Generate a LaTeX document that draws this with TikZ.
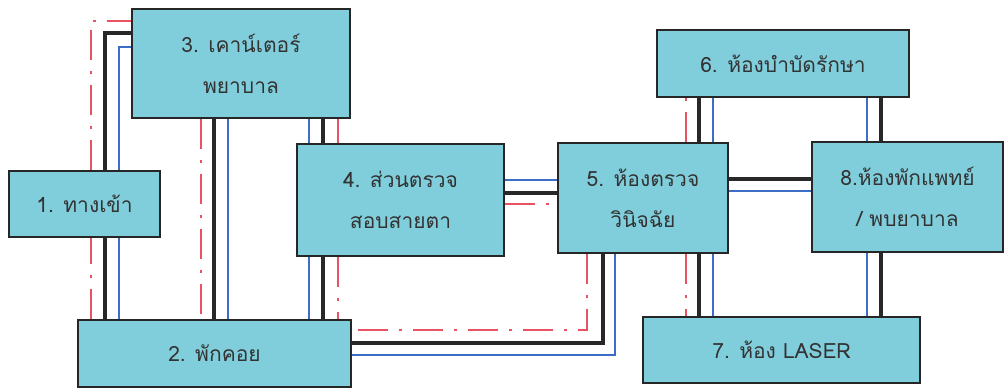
\documentclass[tikz,border=0pt]{standalone}
\usepackage{fontspec}
\newfontfamily\thai[Script=Thai]{Loma}
\usetikzlibrary{backgrounds}
\definecolor{boxfill}{RGB}{128,206,220}
\definecolor{lineblk}{RGB}{40,40,40}
\definecolor{lineblu}{RGB}{60,110,200}
\definecolor{linered}{RGB}{232,82,98}
\begin{document}
\begin{tikzpicture}[x=1pt,y=-1pt,
  box/.style={draw=black!85, line width=1.2pt, fill=boxfill, inner sep=0pt, align=center,
    text=black!80, font=\thai\fontsize{21}{41}\selectfont},
  blk/.style={draw=lineblk, line width=4pt},
  blu/.style={draw=lineblu, line width=1.8pt},
  redl/.style={draw=linered, line width=1.8pt, dash pattern=on 30pt off 11pt on 3pt off 11pt}]
\useasboundingbox (0,0) rectangle (1005,388);
\node[box, minimum width=151pt, minimum height=66pt] (b1) at (84.5,204) {1. ทางเข้า};
\node[box, minimum width=273pt, minimum height=67pt] (b2) at (214.5,353.5) {2. พักคอย};
\node[box, minimum width=218pt, minimum height=109pt] (b3) at (241,63.5) {3. เคาน์เตอร์\\พยาบาล};
\node[box, minimum width=207pt, minimum height=112pt] (b4) at (400.5,200) {4. ส่วนตรวจ\\สอบสายตา};
\node[box, minimum width=170pt, minimum height=110pt] (b5) at (643,198) {5. ห้องตรวจ\\วินิจฉัย};
\node[box, minimum width=252pt, minimum height=67pt] (b6) at (783,63.5) {6. ห้องบำบัดรักษา};
\node[box, minimum width=277pt, minimum height=66pt] (b7) at (781.5,350) {7. ห้อง LASER};
\node[box, minimum width=191pt, minimum height=110pt] (b8) at (907.5,197) {8.ห้องพักแพทย์\\/ พบยาบาล};
\begin{pgfonlayer}{background}
% 2 - 1
\draw[redl] (b2.north -| 91,0) -- (b1.south -| 91,0);
\draw[blk] (b2.north -| 105,0) -- (b1.south -| 105,0);
\draw[blu] (b2.north -| 119,0) -- (b1.south -| 119,0);
% 1 - 3
\draw[redl] (b1.north -| 91,0) |- (b3.west |- 0,21);
\draw[blk] (b1.north -| 105,0) |- (b3.west |- 0,33);
\draw[blu] (b1.north -| 119,0) |- (b3.west |- 0,47);
% 3 - 2
\draw[redl] (b3.south -| 201,0) -- (b2.north -| 201,0);
\draw[blk] (b3.south -| 214,0) -- (b2.north -| 214,0);
\draw[blu] (b3.south -| 228,0) -- (b2.north -| 228,0);
% 3 - 4
\draw[blu] (b3.south -| 309,0) -- (b4.north -| 309,0);
\draw[blk] (b3.south -| 323,0) -- (b4.north -| 323,0);
\draw[redl] (b3.south -| 338,0) -- (b4.north -| 338,0);
% 4 - 2
\draw[blu] (b4.south -| 309,0) -- (b2.north -| 309,0);
\draw[blk] (b4.south -| 323,0) -- (b2.north -| 323,0);
\draw[redl] (b4.south -| 338,0) -- (b2.north -| 338,0);
% 4 - 5
\draw[blu] (b4.east |- 0,180) -- (b5.west |- 0,180);
\draw[blk] (b4.east |- 0,193) -- (b5.west |- 0,193);
\draw[redl] (b4.east |- 0,204) -- (b5.west |- 0,204);
% 5 - 2
\draw[redl] (b5.south -| 587,0) |- (b2.east |- 0,330);
\draw[blk] (b5.south -| 603,0) |- (b2.east |- 0,343);
\draw[blu] (b5.south -| 615,0) |- (b2.east |- 0,355);
% 5 - 6
\draw[redl] (b5.north -| 686,0) -- (b6.south -| 686,0);
\draw[blk] (b5.north -| 699,0) -- (b6.south -| 699,0);
\draw[blu] (b5.north -| 713,0) -- (b6.south -| 713,0);
% 5 - 7
\draw[redl] (b5.south -| 686,0) -- (b7.north -| 686,0);
\draw[blk] (b5.south -| 699,0) -- (b7.north -| 699,0);
\draw[blu] (b5.south -| 713,0) -- (b7.north -| 713,0);
% 6 - 8
\draw[blu] (b6.south -| 867,0) -- (b8.north -| 867,0);
\draw[blk] (b6.south -| 881,0) -- (b8.north -| 881,0);
% 8 - 7
\draw[blu] (b8.south -| 867,0) -- (b7.north -| 867,0);
\draw[blk] (b8.south -| 881,0) -- (b7.north -| 881,0);
% 5 - 8
\draw[blk] (b5.east |- 0,179) -- (b8.west |- 0,179);
\draw[blu] (b5.east |- 0,191) -- (b8.west |- 0,191);
\end{pgfonlayer}
\end{tikzpicture}
\end{document}
